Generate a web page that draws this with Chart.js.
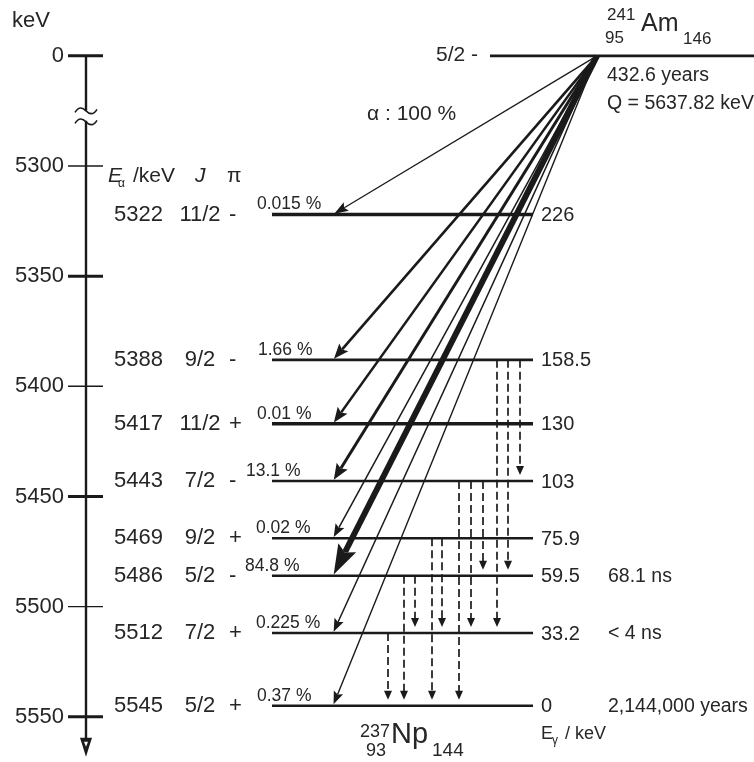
<!DOCTYPE html>
<html>
<head>
<meta charset="utf-8">
<title>241Am alpha decay scheme</title>
<script src="https://cdn.jsdelivr.net/npm/chart.js@4.4.1/dist/chart.umd.min.js"></script>
<style>
html,body{margin:0;padding:0;background:#fff;overflow:hidden;}
canvas{display:block;}
</style>
</head>
<body>
<canvas id="chart" width="754" height="762"></canvas>
<script>
// ---------------- DATA ----------------
const parentName = { mass: '241', symbol: 'Am', Z: '95', N: '146' };
const daughterName = { mass: '237', symbol: 'Np', Z: '93', N: '144' };
const parentSpin = '5/2 -';
const parentEnergy = 0;                       // keV, top of the broken axis
const parentHalfLife = '432.6 years';
const parentQ = 'Q = 5637.82 keV';
const alphaTotal = 'α : 100 %';

const levelEnergies   = [5322, 5388, 5417, 5443, 5469, 5486, 5512, 5545];   // Eα / keV
const levelSpins      = ['11/2', '9/2', '11/2', '7/2', '9/2', '5/2', '7/2', '5/2'];
const levelParities   = ['-', '-', '+', '-', '+', '-', '+', '+'];
const alphaIntensities = ['0.015 %', '1.66 %', '0.01 %', '13.1 %', '0.02 %', '84.8 %', '0.225 %', '0.37 %'];
const excitationEnergies = ['226', '158.5', '130', '103', '75.9', '59.5', '33.2', '0'];   // Eγ / keV
const levelHalfLives  = ['', '', '', '', '', '68.1 ns', '< 4 ns', '2,144,000 years'];

// gamma transitions: index of initial level -> index of final level
const gammaFrom = [1, 1, 1, 3, 3, 3, 4, 4, 5, 5, 6];
const gammaTo   = [3, 5, 6, 5, 6, 7, 6, 7, 6, 7, 7];

const yTickValues = [0, 5300, 5350, 5400, 5450, 5500, 5550];
const yTickLabels = ['0', '5300', '5350', '5400', '5450', '5500', '5550'];
const majorTickValues = [0, 5350, 5450, 5550];

// ---------------- LAYOUT / STYLE ----------------
const BREAK_AT = 5250;                       // axis position that carries the "0" of the broken axis
const toAxis = e => (e === 0 ? BREAK_AT : e);

const INK = '#1a1a1a';
const TXT = '#262626';
const FONT = '"Liberation Sans", Arial, Helvetica, sans-serif';

const LEVEL_X = [272, 533];
const PARENT_X = [490, 754];
const ALPHA_FROM_X = 597;
const ALPHA_TO_X = 333;
const GAMMA_X = [520, 508, 497, 483, 471, 459, 442, 432, 415, 404, 388];
const PCT_X = [257, 258, 257, 246, 256, 245, 256, 257];
const levelWidths = [3.6, 2.6, 3.6, 2.6, 2.6, 2.6, 2.6, 2.6];
const alphaWidths = [1.3, 2.6, 2.4, 3.0, 1.5, 6.0, 1.5, 1.4];
const alphaHeads  = [[14, 5], [15, 6], [15, 6], [16, 6.5], [13, 5], [30, 10], [13, 5], [13, 5]];
const GAMMA_HEAD = [9, 4];
const GAMMA_GAP = 6;

// ---------------- DATASETS ----------------
const datasets = [];
levelEnergies.forEach((e, i) => {
  datasets.push({
    kind: 'level',
    data: [{ x: LEVEL_X[0], y: toAxis(e) }, { x: LEVEL_X[1], y: toAxis(e) }],
    borderColor: INK, borderWidth: levelWidths[i], showLine: true, pointRadius: 0, order: 0
  });
});
datasets.push({
  kind: 'level',
  data: [{ x: PARENT_X[0], y: toAxis(parentEnergy) }, { x: PARENT_X[1], y: toAxis(parentEnergy) }],
  borderColor: INK, borderWidth: 2.8, showLine: true, pointRadius: 0, order: 0
});
levelEnergies.forEach((e, i) => {
  datasets.push({
    kind: 'alpha', head: alphaHeads[i],
    data: [{ x: ALPHA_FROM_X, y: toAxis(parentEnergy) }, { x: ALPHA_TO_X, y: toAxis(e) }],
    borderColor: INK, borderWidth: alphaWidths[i], showLine: true, pointRadius: 0, order: 1
  });
});
gammaFrom.forEach((f, k) => {
  const t = gammaTo[k];
  datasets.push({
    kind: 'gamma', head: GAMMA_HEAD,
    data: [{ x: GAMMA_X[k], y: toAxis(levelEnergies[f]) }, { x: GAMMA_X[k], y: toAxis(levelEnergies[t]) }],
    borderColor: INK, borderWidth: 1.7, borderDash: [8, 4], showLine: true, pointRadius: 0, order: 2
  });
});

// ---------------- HELPERS ----------------
function headShape(ds, pts) {
  const p0 = pts[0], p1 = pts[1];
  if (ds.kind === 'alpha') {
    const dx = p1.x - p0.x, dy = p1.y - p0.y, L = Math.hypot(dx, dy);
    const ux = dx / L, uy = dy / L, nx = -uy, ny = ux;
    const [len, hw] = ds.head;
    const tx = p1.x - ux * 1.5, ty = p1.y - uy * 1.5;
    const bx = tx - ux * len, by = ty - uy * len;
    const nchx = tx - ux * len * 0.82, nchy = ty - uy * len * 0.82;
    const poly = [[tx, ty], [bx + nx * hw, by + ny * hw], [nchx, nchy], [bx - nx * hw, by - ny * hw]];
    const clip = [[tx + ux * 14, ty + uy * 14], [bx + nx * (hw + 1), by + ny * (hw + 1)], [nchx, nchy], [bx - nx * (hw + 1), by - ny * (hw + 1)]];
    return { poly, clip };
  }
  const [len, hw] = ds.head;
  const x = p1.x, ty = p1.y - GAMMA_GAP;
  const poly = [[x, ty], [x - hw, ty - len], [x + hw, ty - len]];
  const clip = [[x - hw - 1, ty - len + 0.5], [x + hw + 1, ty - len + 0.5], [x + hw + 1, p1.y + 8], [x - hw - 1, p1.y + 8]];
  return { poly, clip };
}
function polyPath(ctx, pts) {
  ctx.moveTo(pts[0][0], pts[0][1]);
  for (let i = 1; i < pts.length; i++) ctx.lineTo(pts[i][0], pts[i][1]);
  ctx.closePath();
}
function txt(ctx, s, x, y, size, opt = {}) {
  ctx.save();
  ctx.font = (opt.style ? opt.style + ' ' : '') + size + 'px ' + FONT;
  ctx.fillStyle = TXT;
  ctx.textAlign = opt.align || 'left';
  ctx.textBaseline = opt.baseline || 'alphabetic';
  ctx.fillText(s, x, y);
  ctx.restore();
}

// ---------------- PLUGIN ----------------
const diagram = {
  id: 'diagram',
  beforeDatasetDraw(chart, args) {
    const ds = chart.data.datasets[args.index];
    if (ds.kind !== 'alpha' && ds.kind !== 'gamma') return;
    const ctx = chart.ctx;
    const shape = headShape(ds, args.meta.data);
    ctx.save();
    ctx.beginPath();
    ctx.rect(0, 0, chart.width, chart.height);
    polyPath(ctx, shape.clip);
    ctx.clip('evenodd');
  },
  afterDatasetDraw(chart, args) {
    const ds = chart.data.datasets[args.index];
    if (ds.kind !== 'alpha' && ds.kind !== 'gamma') return;
    const ctx = chart.ctx;
    ctx.restore();
    const shape = headShape(ds, args.meta.data);
    ctx.save();
    ctx.fillStyle = INK;
    ctx.beginPath();
    polyPath(ctx, shape.poly);
    ctx.fill();
    ctx.restore();
  },
  afterDraw(chart) {
    const ctx = chart.ctx;
    const ys = chart.scales.y;
    const Y = v => ys.getPixelForValue(toAxis(v));
    const ax = chart.chartArea.left;

    // --- broken energy axis ---
    const yTop = Y(0), yBot = Y(5550) + 22;
    const brk = yTop + 60;
    ctx.save();
    ctx.strokeStyle = INK;
    ctx.lineWidth = 2.4;
    ctx.beginPath();
    ctx.moveTo(ax, yTop); ctx.lineTo(ax, brk - 5);
    ctx.moveTo(ax, brk + 5); ctx.lineTo(ax, yBot);
    ctx.stroke();
    ctx.lineWidth = 1.6;
    [brk - 5, brk + 6].forEach(yy => {
      ctx.beginPath();
      ctx.moveTo(ax - 11, yy + 1.5);
      ctx.bezierCurveTo(ax - 7, yy - 5, ax - 3, yy - 3, ax, yy);
      ctx.bezierCurveTo(ax + 3, yy + 3, ax + 7, yy + 5, ax + 11, yy - 1.5);
      ctx.stroke();
    });
    // arrow
    ctx.fillStyle = INK;
    ctx.beginPath();
    ctx.moveTo(ax - 6, yBot - 1); ctx.lineTo(ax + 6, yBot - 1); ctx.lineTo(ax, yBot + 18); ctx.closePath();
    ctx.fill();
    ctx.fillStyle = '#fff';
    ctx.beginPath();
    ctx.moveTo(ax - 2, yBot + 3); ctx.lineTo(ax + 2, yBot + 3); ctx.lineTo(ax, yBot + 8); ctx.closePath();
    ctx.fill();
    // tick marks
    yTickValues.forEach(v => {
      const major = majorTickValues.includes(v);
      ctx.lineWidth = major ? 3 : 1.4;
      ctx.beginPath();
      ctx.moveTo(ax - 18, Y(v)); ctx.lineTo(ax + 17, Y(v));
      ctx.stroke();
    });
    ctx.restore();

    // --- axis unit ---
    txt(ctx, 'keV', 12, 27, 22);

    // --- column header ---
    txt(ctx, 'E', 108, 182, 21, { style: 'italic' });
    txt(ctx, 'α', 118, 187, 12);
    txt(ctx, '/keV', 133, 182, 21);
    txt(ctx, 'J', 195, 182, 21, { style: 'italic' });
    txt(ctx, 'π', 227, 182, 21);

    // --- daughter levels ---
    levelEnergies.forEach((e, i) => {
      const y = Y(e);
      txt(ctx, String(e), 114, y, 22, { baseline: 'middle' });
      txt(ctx, levelSpins[i], 200, y, 22, { baseline: 'middle', align: 'center' });
      txt(ctx, levelParities[i], 229, y, 22, { baseline: 'middle' });
      txt(ctx, alphaIntensities[i], PCT_X[i], y - 5, 17.5);
      txt(ctx, excitationEnergies[i], 541, y + 1, 20, { baseline: 'middle' });
      if (levelHalfLives[i]) txt(ctx, levelHalfLives[i], 608, y + 1, 19.5, { baseline: 'middle' });
    });

    // --- parent ---
    const yp = Y(parentEnergy);
    txt(ctx, parentSpin, 478, yp - 1, 21, { baseline: 'middle', align: 'right' });
    txt(ctx, parentName.mass, 607, 20, 17);
    txt(ctx, parentName.symbol, 641, 31, 25);
    txt(ctx, parentName.Z, 605, 43, 17);
    txt(ctx, parentName.N, 683, 44, 17);
    txt(ctx, parentHalfLife, 607, 81, 19.5);
    txt(ctx, parentQ, 607, 109, 19.5);
    txt(ctx, alphaTotal, 367, 114, 21, { baseline: 'middle' });

    // --- daughter name and gamma-energy unit ---
    txt(ctx, daughterName.mass, 360, 737, 18);
    txt(ctx, daughterName.symbol, 391, 743, 29);
    txt(ctx, daughterName.Z, 366, 756, 18);
    txt(ctx, daughterName.N, 432, 756, 19);
    txt(ctx, 'E', 541, 739, 18);
    txt(ctx, 'γ', 552, 744, 12);
    txt(ctx, '/ keV', 565, 739, 18);
  }
};

// ---------------- CHART ----------------
Chart.defaults.font.family = FONT;
new Chart(document.getElementById('chart'), {
  type: 'scatter',
  data: { datasets },
  options: {
    responsive: false,
    animation: false,
    devicePixelRatio: 1,
    events: [],
    layout: { padding: { top: 10, bottom: 10, left: 0, right: 0 } },
    plugins: { legend: { display: false }, tooltip: { enabled: false } },
    scales: {
      x: { type: 'linear', min: 86, max: 754, display: false },
      y: {
        type: 'linear', position: 'left', reverse: true, min: 5229.2, max: 5566,
        afterFit: s => { s.width = 86; s.paddingTop = 0; s.paddingBottom = 0; },
        afterBuildTicks: s => { s.ticks = yTickValues.map(v => ({ value: toAxis(v) })); },
        grid: { display: false, drawTicks: false },
        border: { display: false },
        ticks: {
          autoSkip: false, padding: 22, color: TXT,
          font: { size: 22, family: FONT },
          callback: (v, i) => yTickLabels[i]
        }
      }
    }
  },
  plugins: [diagram]
});
</script>
</body>
</html>
